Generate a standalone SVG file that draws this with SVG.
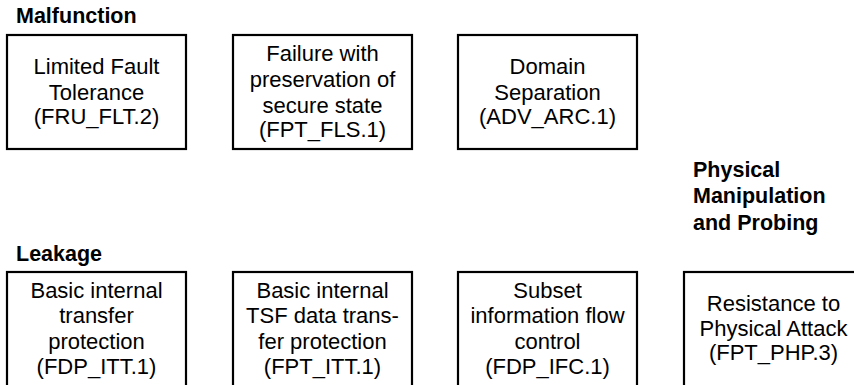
<svg xmlns="http://www.w3.org/2000/svg" width="854" height="385" viewBox="0 0 854 385">
<style>
.box{fill:#fff;stroke:#000;stroke-width:2.2}
.t{font-family:"Liberation Sans",Arial,sans-serif;font-size:22px;fill:#000;text-anchor:middle}
.h{font-family:"Liberation Sans",Arial,sans-serif;font-size:21.5px;font-weight:bold;fill:#000}
</style>
<rect width="854" height="385" fill="#fff"/>
<g id="labels">
<text class="h" x="16" y="23">Malfunction</text>
<text class="h" x="16" y="261">Leakage</text>
<text class="h" x="693" y="177">Physical</text>
<text class="h" x="693" y="203">Manipulation</text>
<text class="h" x="693" y="230">and Probing</text>
</g>
<g id="n1">
<rect class="box" x="7" y="35" width="179" height="114"/>
<text class="t" x="96.5" y="74">Limited Fault</text>
<text class="t" x="96.5" y="100">Tolerance</text>
<text class="t" x="96.5" y="124">(FRU_FLT.2)</text>
</g>
<g id="n2">
<rect class="box" x="233" y="35" width="179" height="114"/>
<text class="t" x="322.5" y="61">Failure with</text>
<text class="t" x="322.5" y="87">preservation of</text>
<text class="t" x="322.5" y="113">secure state</text>
<text class="t" x="322.5" y="137">(FPT_FLS.1)</text>
</g>
<g id="n3">
<rect class="box" x="458" y="35" width="179" height="114"/>
<text class="t" x="547.5" y="74">Domain</text>
<text class="t" x="547.5" y="100">Separation</text>
<text class="t" x="547.5" y="124">(ADV_ARC.1)</text>
</g>
<g id="n4">
<rect class="box" x="7" y="272" width="179" height="150"/>
<text class="t" x="96.5" y="298">Basic internal</text>
<text class="t" x="96.5" y="323">transfer</text>
<text class="t" x="96.5" y="349">protection</text>
<text class="t" x="96.5" y="374">(FDP_ITT.1)</text>
</g>
<g id="n5">
<rect class="box" x="233" y="272" width="179" height="150"/>
<text class="t" x="322.5" y="298">Basic internal</text>
<text class="t" x="322.5" y="323">TSF data trans-</text>
<text class="t" x="322.5" y="349">fer protection</text>
<text class="t" x="322.5" y="374">(FPT_ITT.1)</text>
</g>
<g id="n6">
<rect class="box" x="458" y="272" width="179" height="150"/>
<text class="t" x="547.5" y="298">Subset</text>
<text class="t" x="547.5" y="323">information flow</text>
<text class="t" x="547.5" y="349">control</text>
<text class="t" x="547.5" y="374">(FDP_IFC.1)</text>
</g>
<g id="n7">
<rect class="box" x="684" y="272" width="179" height="150"/>
<text class="t" x="773.5" y="311">Resistance to</text>
<text class="t" x="773.5" y="336">Physical Attack</text>
<text class="t" x="773.5" y="360">(FPT_PHP.3)</text>
</g>
<g id="connectors"/>
</svg>
